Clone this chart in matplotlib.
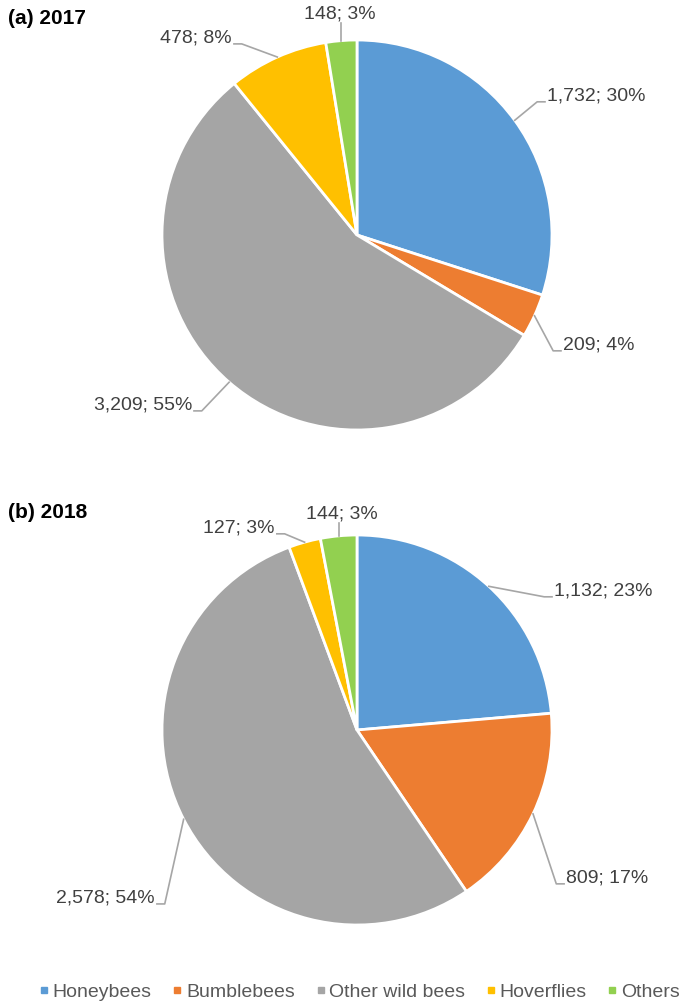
import numpy as np
import matplotlib
matplotlib.use("Agg")
import matplotlib.pyplot as plt
from matplotlib.lines import Line2D

plt.rcParams['font.family'] = ['Liberation Sans', 'DejaVu Sans']

# data
groups = ['Honeybees', 'Bumblebees', 'Other wild bees', 'Hoverflies', 'Others']
colors = ['#5B9BD5', '#ED7D31', '#A5A5A5', '#FFC000', '#92D050']
counts_2017 = [1732, 209, 3209, 478, 148]
pct_2017 = [30, 4, 55, 8, 3]
counts_2018 = [1132, 809, 2578, 127, 144]
pct_2018 = [23, 17, 54, 3, 3]
titles = ['(a) 2017', '(b) 2018']

# label layout: (text x, text y, side) in units of pie radius
layout_2017 = [(0.974, 0.713, 'left'), (1.056, -0.564, 'left'),
               (-0.846, -0.872, 'right'), (-0.641, 1.010, 'right'),
               (-0.09, 1.133, 'top')]
layout_2018 = [(1.010, 0.713, 'left'), (1.072, -0.759, 'left'),
               (-1.036, -0.862, 'right'), (-0.421, 1.036, 'right'),
               (-0.077, 1.108, 'top')]

W, H = 685, 1007
fig = plt.figure(figsize=(W / 100, H / 100), dpi=100)

R = 195  # pie radius in pixels
cx = 357
centers_y = [235, 730]


def draw_pie(cy, counts, pcts, layout, title):
    x0, x1 = -1.75, 1.68
    y0, y1 = -1.2, 1.2
    left = (cx + x0 * R) / W
    width = (x1 - x0) * R / W
    bottom = 1 - (cy - y0 * R) / H
    height = (y1 - y0) * R / H
    ax = fig.add_axes([left, bottom, width, height])
    wedges, _ = ax.pie(counts, colors=colors, startangle=90, counterclock=False,
                       radius=1, wedgeprops=dict(edgecolor='white', linewidth=2))
    ax.set_xlim(x0, x1)
    ax.set_ylim(y0, y1)
    ax.set_aspect('auto')
    ax.axis('off')
    for w, n, p, (tx, ty, side) in zip(wedges, counts, pcts, layout):
        mid = np.deg2rad((w.theta1 + w.theta2) / 2)
        ex, ey = np.cos(mid), np.sin(mid)
        txt = f"{n:,}; {p}%"
        if side == 'top':
            ax.plot([ex, ex], [ey, ty - 0.045], color='#A6A6A6', lw=1.2)
            ax.text(tx, ty, txt, ha='center', va='center', fontsize=14, color='#404040')
        else:
            s = 1 if side == 'left' else -1
            ly = ty - 0.03
            ax.plot([ex, tx - s * 0.05, tx - s * 0.01], [ey, ly, ly],
                    color='#A6A6A6', lw=1.2)
            ax.text(tx, ty, txt, ha=side, va='center', fontsize=14, color='#404040')
    fig.text(8 / W, 1 - (cy - 217) / H, title, fontsize=15, fontweight='bold',
             ha='left', va='center', color='black')


draw_pie(centers_y[0], counts_2017, pct_2017, layout_2017, titles[0])
draw_pie(centers_y[1], counts_2018, pct_2018, layout_2018, titles[1])

handles = [Line2D([], [], marker='s', linestyle='none', markersize=4.5,
                  markerfacecolor=c, markeredgecolor=c) for c in colors]
fig.legend(handles, groups, loc='center', bbox_to_anchor=(360 / W, 1 - 992 / H),
           ncol=5, frameon=False, fontsize=14, handlelength=0.4,
           handletextpad=0.25, columnspacing=1.12, labelcolor='#595959',
           borderpad=0, borderaxespad=0)

fig.savefig('out.png', dpi=100, facecolor='white')
